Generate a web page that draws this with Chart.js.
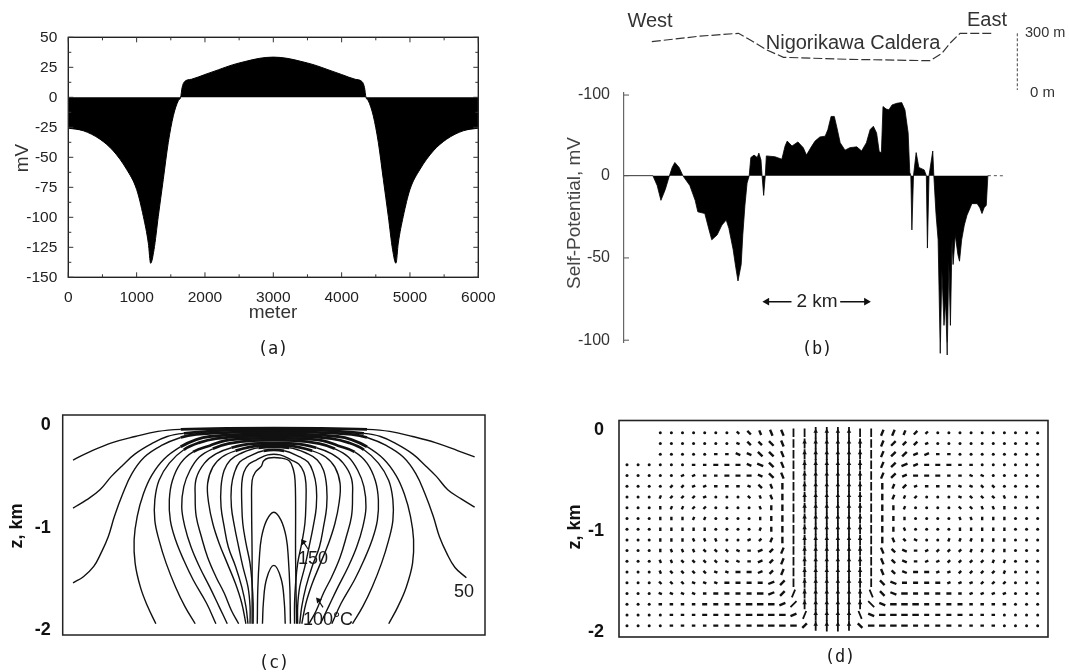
<!DOCTYPE html>
<html>
<head>
<meta charset="utf-8">
<script src="https://cdn.jsdelivr.net/npm/chart.js@4.4.1/dist/chart.umd.min.js"></script>
<style>
  html, body { margin: 0; padding: 0; background: #fff; }
  body { width: 1069px; height: 672px; position: relative; overflow: hidden; }
  .panel { position: absolute; }
</style>
</head>
<body>
<div class="panel" style="left:0;top:0"><canvas id="chartA" width="540" height="372"></canvas></div>
<div class="panel" style="left:540px;top:0"><canvas id="chartB" width="529" height="372"></canvas></div>
<div class="panel" style="left:0;top:380px"><canvas id="chartC" width="540" height="292"></canvas></div>
<div class="panel" style="left:540px;top:380px"><canvas id="chartD" width="529" height="292"></canvas></div>
<script>
'use strict';

const SANS = "'Liberation Sans', Arial, sans-serif";
const MONO = "'DejaVu Sans Mono', monospace";

// ─── (a) modelled self-potential profile ──────────────────────────────────────
const distA = [0, 220, 463, 659, 854, 1000, 1098, 1171, 1205, 1254, 1317, 1390, 1463, 1537, 1610, 1644,
  1665, 1700, 1800, 2000, 2200, 2400, 2600, 2800, 3000, 3200, 3400, 3600, 3800, 4000, 4200, 4300, 4335, 4356,
  4390, 4463, 4537, 4610, 4683, 4746, 4795, 4829, 4902, 5000, 5146, 5341, 5537, 5780, 6000];
const spA = [-25.7, -27.9, -34.9, -44.7, -60.1, -76.8, -99.2, -121.5, -138.3, -127.1, -99.2, -68.4, -37.7, -15.4, -2.8, 0,
  8, 13, 15, 19, 23, 27, 30, 32.5, 33.5, 32.5, 30, 27, 23, 19, 15, 13, 8, 0,
  -2.8, -15.4, -37.7, -68.4, -99.2, -127.1, -138.3, -121.5, -99.2, -76.8, -60.1, -44.7, -34.9, -27.9, -25.7];

// ─── (b) observed SP across Nigorikawa caldera (km along line, mV) ────────────
const distB = [0, 0.54, 0.62, 0.69, 0.77, 0.84, 0.90, 0.95, 1.03, 1.10,
  1.23, 1.33, 1.38, 1.51, 1.59, 1.64, 1.74, 1.83, 1.91, 1.96,
  2.04, 2.09, 2.13, 2.19, 2.22, 2.26, 2.30, 2.34, 2.37, 2.43,
  2.49, 2.52, 2.56, 2.58, 2.61, 2.64, 2.66, 2.82, 2.95, 3.01,
  3.05, 3.14, 3.25, 3.35, 3.41, 3.50, 3.57, 3.66, 3.76, 3.81,
  3.87, 3.93, 3.98, 4.04, 4.13, 4.22, 4.35, 4.44, 4.53, 4.60,
  4.66, 4.72, 4.77, 4.81, 4.84, 4.90, 4.95, 5.01, 5.10, 5.19,
  5.25, 5.31, 5.34, 5.36, 5.38, 5.41, 5.46, 5.51, 5.61, 5.65,
  5.67, 5.70, 5.77, 5.79, 5.83, 5.87, 5.91, 5.94, 5.98, 6.01,
  6.04, 6.07, 6.10, 6.13, 6.15, 6.19, 6.24, 6.27, 6.31, 6.36,
  6.41, 6.47, 6.50, 6.60, 6.65, 6.69, 6.73, 6.77, 6.80];
const spB = [0, 0, -6, -15, -8.5, -1, 5, 8, 5, 0,
  -6, -15, -22, -23, -33, -39, -36, -30, -27, -32,
  -45, -56, -64, -54, -36, -18, -4.5, 0, 11, 12.5,
  11, 13.7, 9.5, 0, -12, 0, 12, 11.5, 10, 18,
  21, 18, 20.5, 17, 12.5, 17.5, 21, 23.5, 24, 28,
  36, 36, 29, 20, 15.5, 17, 17.5, 15, 20, 28,
  30, 26, 14.5, 14, 42, 40.5, 40, 43, 44, 44.4,
  40, 26, 2, 0, -33, 0, 14, 5, 3.5, 0,
  -44, 0, 15, 0, -23, -39, -108, -57, -91, -76,
  -109, -52, -91, -39, -54, -36, -48, -52, -39, -30,
  -24, -19.5, -17, -17, -19.5, -23, -19.5, -18, 0];
const tailB = [6.80, 7.08];
const topoDist = [0.52, 1.42, 2.14, 2.36, 2.67, 2.98, 4.22, 5.72, 5.94, 6.09, 6.28, 6.90];
const topoElev = [256, 285, 300, 265, 212, 173, 162, 155, 194, 247, 300, 300];
const scaleBarDist = 7.35;
const scaleBarElev = [300, 0];
const spanDist = [2.60, 4.60];      // the "2 km" bar
const spanLevel = -76.6;
const tickValsB = [49, 0, -50, -100];
const tickTextB = ['-100', '0', '-50', '-100'];

// ─── (c) isotherms, x and z in km ─────────────────────────────────────────────
const isotherms = [
  [[-1.94,-0.34],[-1.78,-0.26],[-1.56,-0.17],[-1.34,-0.11],[-1.12,-0.06],[-0.90,-0.04],[-0.45,-0.03],[0.45,-0.03],[0.90,-0.04],[1.12,-0.06],[1.34,-0.11],[1.56,-0.17],[1.78,-0.25],[1.94,-0.31]],
  [[-1.94,-0.81],[-1.81,-0.73],[-1.68,-0.63],[-1.57,-0.50],[-1.46,-0.39],[-1.34,-0.28],[-1.18,-0.18],[-1.03,-0.11],[-0.87,-0.08],[-0.45,-0.05],[0.45,-0.05],[0.87,-0.08],[1.03,-0.11],[1.18,-0.18],[1.34,-0.28],[1.46,-0.39],[1.57,-0.50],[1.68,-0.63],[1.81,-0.72],[1.94,-0.80]],
  [[-1.94,-1.54],[-1.84,-1.48],[-1.74,-1.38],[-1.67,-1.25],[-1.60,-1.09],[-1.54,-0.89],[-1.46,-0.67],[-1.37,-0.47],[-1.25,-0.31],[-1.09,-0.20],[-0.90,-0.12],[-0.75,-0.09],[-0.40,-0.07],[0.40,-0.07],[0.75,-0.09],[0.90,-0.12],[1.09,-0.20],[1.25,-0.31],[1.37,-0.47],[1.46,-0.67],[1.54,-0.89],[1.60,-1.09],[1.67,-1.25],[1.75,-1.39],[1.86,-1.49]],
  [[-1.14,-1.94],[-1.22,-1.77],[-1.29,-1.58],[-1.34,-1.35],[-1.35,-1.12],[-1.32,-0.89],[-1.26,-0.67],[-1.18,-0.49],[-1.06,-0.33],[-0.90,-0.21],[-0.75,-0.14],[-0.62,-0.11],[-0.30,-0.09],[0.30,-0.09],[0.62,-0.11],[0.75,-0.14],[0.90,-0.21],[1.06,-0.33],[1.18,-0.49],[1.26,-0.67],[1.32,-0.89],[1.35,-1.12],[1.34,-1.35],[1.28,-1.58],[1.20,-1.77],[1.11,-1.94]],
  [[-0.76,-1.94],[-0.86,-1.77],[-0.95,-1.58],[-1.04,-1.35],[-1.11,-1.12],[-1.15,-0.93],[-1.15,-0.73],[-1.11,-0.54],[-1.01,-0.37],[-0.87,-0.24],[-0.72,-0.17],[-0.56,-0.13],[-0.30,-0.11],[0.30,-0.11],[0.56,-0.13],[0.72,-0.17],[0.87,-0.24],[1.01,-0.37],[1.11,-0.54],[1.15,-0.73],[1.15,-0.93],[1.11,-1.12],[1.04,-1.35],[0.95,-1.58],[0.86,-1.77],[0.76,-1.94]],
  [[-0.56,-1.94],[-0.65,-1.74],[-0.78,-1.51],[-0.87,-1.32],[-0.95,-1.12],[-1.00,-0.93],[-1.01,-0.73],[-0.98,-0.54],[-0.90,-0.37],[-0.78,-0.26],[-0.62,-0.20],[-0.47,-0.15],[-0.25,-0.13],[0.25,-0.13],[0.47,-0.15],[0.62,-0.20],[0.78,-0.26],[0.90,-0.37],[0.98,-0.54],[1.01,-0.73],[1.00,-0.93],[0.95,-1.12],[0.87,-1.32],[0.78,-1.51],[0.65,-1.74],[0.56,-1.94]],
  [[-0.45,-1.94],[-0.53,-1.77],[-0.62,-1.58],[-0.72,-1.38],[-0.80,-1.19],[-0.86,-0.99],[-0.89,-0.80],[-0.87,-0.60],[-0.81,-0.44],[-0.72,-0.31],[-0.59,-0.23],[-0.44,-0.18],[-0.20,-0.15],[0.20,-0.15],[0.44,-0.18],[0.59,-0.23],[0.72,-0.31],[0.81,-0.44],[0.87,-0.60],[0.89,-0.80],[0.86,-0.99],[0.80,-1.19],[0.72,-1.38],[0.62,-1.58],[0.53,-1.77],[0.45,-1.94]],
  [[-0.34,-1.94],[-0.41,-1.81],[-0.48,-1.64],[-0.56,-1.48],[-0.64,-1.29],[-0.70,-1.09],[-0.75,-0.89],[-0.76,-0.70],[-0.75,-0.52],[-0.67,-0.37],[-0.56,-0.28],[-0.41,-0.22],[-0.20,-0.18],[0.20,-0.18],[0.41,-0.22],[0.56,-0.28],[0.67,-0.37],[0.75,-0.52],[0.76,-0.70],[0.75,-0.89],[0.70,-1.09],[0.64,-1.29],[0.56,-1.48],[0.48,-1.64],[0.41,-1.81],[0.34,-1.94]],
  [[-0.27,-1.94],[-0.31,-1.74],[-0.37,-1.55],[-0.45,-1.35],[-0.53,-1.15],[-0.59,-0.96],[-0.63,-0.76],[-0.64,-0.57],[-0.59,-0.41],[-0.50,-0.31],[-0.37,-0.25],[-0.15,-0.20],[0.15,-0.20],[0.37,-0.25],[0.50,-0.31],[0.59,-0.41],[0.64,-0.57],[0.63,-0.76],[0.59,-0.96],[0.53,-1.15],[0.45,-1.35],[0.37,-1.55],[0.31,-1.74],[0.27,-1.94]],
  [[-0.25,-1.94],[-0.27,-1.77],[-0.31,-1.58],[-0.37,-1.38],[-0.44,-1.19],[-0.48,-0.99],[-0.51,-0.80],[-0.51,-0.60],[-0.48,-0.44],[-0.42,-0.34],[-0.33,-0.28],[-0.15,-0.22],[0.15,-0.22],[0.33,-0.28],[0.42,-0.34],[0.48,-0.44],[0.51,-0.60],[0.51,-0.80],[0.48,-0.99],[0.44,-1.19],[0.37,-1.38],[0.31,-1.58],[0.27,-1.77],[0.25,-1.94]],
  [[-0.23,-1.94],[-0.23,-1.77],[-0.25,-1.58],[-0.30,-1.38],[-0.34,-1.19],[-0.38,-0.99],[-0.41,-0.80],[-0.41,-0.60],[-0.38,-0.46],[-0.33,-0.36],[-0.25,-0.31],[-0.10,-0.25],[0.10,-0.25],[0.25,-0.31],[0.33,-0.36],[0.38,-0.46],[0.41,-0.60],[0.41,-0.80],[0.38,-0.99],[0.34,-1.19],[0.30,-1.38],[0.25,-1.58],[0.23,-1.77],[0.23,-1.94]],
  [[-0.20,-1.94],[-0.20,-1.74],[-0.21,-1.55],[-0.23,-1.35],[-0.27,-1.15],[-0.30,-0.96],[-0.31,-0.76],[-0.31,-0.57],[-0.29,-0.46],[-0.24,-0.38],[-0.17,-0.34],[-0.06,-0.29],[0.06,-0.29],[0.17,-0.34],[0.24,-0.38],[0.29,-0.46],[0.31,-0.57],[0.31,-0.76],[0.30,-0.96],[0.27,-1.15],[0.23,-1.35],[0.21,-1.55],[0.20,-1.74],[0.20,-1.94]],
  [[-0.21,-1.94],[-0.21,-1.30],[-0.215,-0.75],[-0.21,-0.54],[-0.18,-0.46],[-0.12,-0.40],[-0.10,-0.35],[-0.05,-0.32],[0.06,-0.32],[0.15,-0.35],[0.19,-0.44],[0.205,-0.54],[0.21,-0.75],[0.21,-1.30],[0.22,-1.94]],
  [[-0.16,-1.94],[-0.155,-1.60],[-0.14,-1.30],[-0.12,-1.10],[-0.07,-0.93],[0,-0.85],[0.07,-0.93],[0.12,-1.10],[0.14,-1.30],[0.155,-1.60],[0.16,-1.94]],
  [[-0.11,-1.94],[-0.10,-1.72],[-0.07,-1.50],[0,-1.37],[0.07,-1.50],[0.10,-1.72],[0.11,-1.94]]
];
const pointerStems = [
  [[0.33,-1.21],[0.285,-1.14]],
  [[0.475,-1.78],[0.43,-1.71]]
];
const depthTicks = [0, -1, -2];

// ─── (d) flow vectors: one row per depth level, one char per column ───────────
// orientation a..h = 0°..157.5° in 22.5° steps, '.' = no direction, ' ' = no node
const flowDir = [
  '   .......ggfffeeee' + 'eeeedddcc..........',
  '   .......hgggfeeee' + 'eeeedcccb..........',
  '   .....aahhggfeeee' + 'eeeedccbbaa........',
  '......aaaaahhgfeeee' + 'eeeedcbbaaaaa......',
  '.....bbaaaaahgfeeee' + 'eeeedcbaaaaahh.....',
  '....ccbbaaahgfeeeee' + 'eeeeedcbaaahhgg....',
  '...dcccbaahgffeeeee' + 'eeeeeddcbaahgggf...',
  '...eddccb...feeeeee' + 'eeeeeed...hggffe...',
  '...eeeddd...eeeeeee' + 'eeeeeee...fffeee...',
  '...eeeeef..ddeeeeee' + 'eeeeeeff..deeeee...',
  '...eeefffgabcdeeeee' + 'eeeeefghacdddeee...',
  '...efffggghabcdeeee' + 'eeeefghabcccddde...',
  '...ffgggghhabcdeeee' + 'eeeefghabbccccdd...',
  '...fgggghhaabcdeeee' + 'eeeefghaabbccccd...',
  '..gggghhhaaaabceeee' + 'eeeeghaaaabbbcccc..',
  '..hhhhhaaaaaabcdeee' + 'eeefghaaaaaabbbbb..',
  '...aaaaaaaaaaabceee' + 'eeeghaaaaaaaaaaa...',
  '....aaaaaaaaaaabdee' + 'eefhaaaaaaaaaaa....',
  '....aaaaaaaaaaaacee' + 'eegaaaaaaaaaaaa....'
];
// magnitude class 0 (dot) .. 6 (strong upflow)
const flowMag = [
  '   0000000122334466' + '6644332210000000000',
  '   0000000122334566' + '6654332210000000000',
  '   0000011223334566' + '6654333221100000000',
  '0000001122223334566' + '6654333222211000000',
  '0000011112222334566' + '6654332222111100000',
  '0000111111112234566' + '6654322111111110000',
  '0001111100011234566' + '6654321100011111000',
  '0001111100001234566' + '6654321000011111000',
  '0001111100001234566' + '6654321000011111000',
  '0001111100001234566' + '6654321000011111000',
  '0001111110011234566' + '6654321100111111000',
  '0001111111112234566' + '6654322111111111000',
  '0001111111112234566' + '6654322111111111000',
  '0001111111222234566' + '6654322221111111000',
  '0001111112222334566' + '6654332222111111000',
  '0001111122223334566' + '6654333222211111000',
  '0001111222233334566' + '6654333322221111000',
  '0000111222233333466' + '6643333322221110000',
  '0000111122223333356' + '6533333222211110000'
];

// ─── helpers ──────────────────────────────────────────────────────────────────
const pts = (xs, ys) => xs.map((x, i) => ({ x, y: ys[i] }));
const pairs = arr => arr.map(([x, y]) => ({ x, y }));

function notesPlugin(items) {
  return {
    id: 'notes',
    afterDraw(chart) {
      const ctx = chart.ctx;
      items.forEach(n => {
        ctx.save();
        ctx.font = n.font;
        ctx.fillStyle = n.color || '#1a1a1a';
        ctx.textAlign = n.align || 'center';
        ctx.textBaseline = 'middle';
        ctx.translate(n.x, n.y);
        if (n.rot) ctx.rotate(n.rot * Math.PI / 180);
        ctx.fillText(n.text, 0, 0);
        ctx.restore();
      });
    }
  };
}

function framePlugin(width, color) {
  return {
    id: 'frame',
    afterDatasetsDraw(chart) {
      const { left, top, right, bottom } = chart.chartArea;
      const ctx = chart.ctx;
      ctx.save();
      ctx.strokeStyle = color;
      ctx.lineWidth = width;
      ctx.strokeRect(left, top, right - left, bottom - top);
      ctx.restore();
    }
  };
}

// inward tick marks on all four sides of panel (a)
const frameTicksA = {
  id: 'frameTicksA',
  afterDraw(chart) {
    const { ctx, chartArea: ca, scales } = chart;
    ctx.save();
    ctx.strokeStyle = '#333';
    ctx.lineWidth = 1;
    ctx.beginPath();
    const xt = scales.x.ticks.map(t => t.value);
    const yt = scales.y.ticks.map(t => t.value);
    const xs = [], ys = [];
    xt.forEach((v, i) => { xs.push([v, 5]); if (i < xt.length - 1) xs.push([(v + xt[i + 1]) / 2, 3]); });
    yt.forEach((v, i) => { ys.push([v, 5]); if (i < yt.length - 1) ys.push([(v + yt[i + 1]) / 2, 3]); });
    xs.forEach(([v, l]) => {
      const px = scales.x.getPixelForValue(v);
      ctx.moveTo(px, ca.bottom); ctx.lineTo(px, ca.bottom - l);
      ctx.moveTo(px, ca.top); ctx.lineTo(px, ca.top + l);
    });
    ys.forEach(([v, l]) => {
      const py = scales.y.getPixelForValue(v);
      ctx.moveTo(ca.left, py); ctx.lineTo(ca.left + l, py);
      ctx.moveTo(ca.right, py); ctx.lineTo(ca.right - l, py);
    });
    ctx.stroke();
    ctx.restore();
  }
};

// inward tick marks on the SP axis of panel (b)
const axisTicksB = {
  id: 'axisTicksB',
  afterDraw(chart) {
    const { ctx, chartArea: ca, scales } = chart;
    ctx.save();
    ctx.strokeStyle = '#555';
    ctx.lineWidth = 1;
    ctx.beginPath();
    tickValsB.forEach(v => {
      const py = scales.y.getPixelForValue(v);
      ctx.moveTo(ca.left, py); ctx.lineTo(ca.left + 5, py);
    });
    ctx.stroke();
    ctx.restore();
  }
};

const base = {
  responsive: false,
  animation: false,
  devicePixelRatio: 1,
  events: [],
  plugins: { legend: { display: false }, tooltip: { enabled: false } }
};

Chart.defaults.font.family = SANS;

// ─── (a) ──────────────────────────────────────────────────────────────────────
new Chart(document.getElementById('chartA'), {
  type: 'scatter',
  data: {
    datasets: [{
      data: pts(distA, spA),
      showLine: true,
      fill: 'origin',
      borderColor: '#000',
      backgroundColor: '#000',
      borderWidth: 1,
      pointRadius: 0,
      cubicInterpolationMode: 'monotone'
    }]
  },
  options: {
    ...base,
    layout: { padding: { left: 8.3, right: 61.7, top: 37.3, bottom: 64.7 } },
    scales: {
      x: {
        type: 'linear', min: 0, max: 6000,
        ticks: { stepSize: 1000, autoSkip: false, maxRotation: 0, padding: 3, color: '#222', font: { size: 15.5 },
                 callback: v => String(v) },
        grid: { display: false },
        border: { display: false },
        afterFit: s => { s.height = 30; }
      },
      y: {
        min: -150, max: 50,
        ticks: { stepSize: 25, autoSkip: false, padding: 3, color: '#222', font: { size: 15.5 },
                 callback: v => String(v) },
        grid: { display: false },
        border: { display: false },
        afterFit: s => { s.width = 60; }
      }
    }
  },
  plugins: [
    framePlugin(1.4, '#222'),
    frameTicksA,
    notesPlugin([
      { text: 'mV', x: 23, y: 158, font: `19px ${SANS}`, rot: -90, color: '#333' },
      { text: 'meter', x: 273, y: 313, font: `19px ${SANS}`, color: '#333' },
      { text: '(a)', x: 273, y: 350, font: `17px ${MONO}` }
    ])
  ]
});

// ─── (b) ──────────────────────────────────────────────────────────────────────
new Chart(document.getElementById('chartB'), {
  type: 'scatter',
  data: {
    datasets: [
      {
        data: pts(topoDist, topoElev), yAxisID: 'yTopo', showLine: true, clip: false,
        borderColor: '#333', borderWidth: 1.2, borderDash: [9, 3], pointRadius: 0
      },
      {
        data: scaleBarElev.map(e => ({ x: scaleBarDist, y: e })), yAxisID: 'yTopo', showLine: true, clip: false,
        borderColor: '#444', borderWidth: 1, borderDash: [3, 2],
        pointStyle: 'line', pointRadius: 4.5, pointBorderColor: '#444', pointBorderWidth: 1.2
      },
      {
        data: pts(distB, spB), showLine: true, clip: false, fill: 'origin',
        borderColor: '#000', backgroundColor: '#000', borderWidth: 0.8, pointRadius: 0, tension: 0
      },
      {
        data: tailB.map(x => ({ x, y: 0 })), showLine: true,
        borderColor: '#555', borderWidth: 1, borderDash: [3, 3], pointRadius: 0
      },
      {
        data: [{ x: 3.13, y: spanLevel }, { x: spanDist[0] + 0.07, y: spanLevel }], showLine: true,
        borderColor: '#111', borderWidth: 1.6, pointStyle: 'triangle',
        pointRadius: [0, 4.5], pointRotation: [0, -90], pointBackgroundColor: '#111', pointBorderWidth: 0
      },
      {
        data: [{ x: 4.04, y: spanLevel }, { x: spanDist[1] - 0.07, y: spanLevel }], showLine: true,
        borderColor: '#111', borderWidth: 1.6, pointStyle: 'triangle',
        pointRadius: [0, 4.5], pointRotation: [0, 90], pointBackgroundColor: '#111', pointBorderWidth: 0
      }
    ]
  },
  options: {
    ...base,
    layout: { padding: { left: 24, right: 64, top: 92.4, bottom: 29.5 } },
    scales: {
      x: { type: 'linear', min: 0, max: 7.12, display: false },
      y: {
        min: -101.4, max: 50.6,
        afterBuildTicks: s => { s.ticks = tickValsB.map(v => ({ value: v })); },
        ticks: { callback: (v, i) => tickTextB[i], padding: 6, color: '#333', font: { size: 16 } },
        grid: { display: false },
        border: { display: true, color: '#666', width: 1.2, dash: [4, 2] },
        afterFit: s => { s.width = 60; }
      },
      yTopo: { type: 'linear', display: false, min: -1336, max: -12.7 }
    }
  },
  plugins: [
    axisTicksB,
    notesPlugin([
      { text: 'West', x: 110, y: 21, font: `20px ${SANS}`, color: '#333' },
      { text: 'East', x: 447, y: 20, font: `20px ${SANS}`, color: '#333' },
      { text: 'Nigorikawa Caldera', x: 313, y: 43, font: `20px ${SANS}`, color: '#333' },
      { text: '300 m', x: 485, y: 33, font: `14.5px ${SANS}`, align: 'left', color: '#333' },
      { text: '0 m', x: 490, y: 93, font: `15px ${SANS}`, align: 'left', color: '#333' },
      { text: 'Self-Potential, mV', x: 35, y: 213, font: `19px ${SANS}`, rot: -90, color: '#444' },
      { text: '2 km', x: 277, y: 302, font: `19px ${SANS}`, color: '#222' },
      { text: '(b)', x: 277, y: 350, font: `17px ${MONO}` }
    ])
  ]
});

// ─── (c) ──────────────────────────────────────────────────────────────────────
// where the isotherms crowd together under the surface they merge into a dark band
const inBand = ctx => ctx.p0.parsed.y > -0.28 && ctx.p1.parsed.y > -0.28 &&
  Math.abs(ctx.p0.parsed.x) < 0.92 && Math.abs(ctx.p1.parsed.x) < 0.92;
const isoSets = isotherms.map(iso => ({
  data: pairs(iso), showLine: true, borderColor: '#111', borderWidth: 1.4, pointRadius: 0, tension: 0.4,
  segment: { borderWidth: ctx => (inBand(ctx) ? 2.8 : undefined) }
}));
const stemSets = pointerStems.map(s => ({
  data: pairs(s), showLine: true, borderColor: '#111', borderWidth: 1.2, pointStyle: 'triangle',
  pointRadius: [0, 3.6], pointRotation: [0, -40], pointBackgroundColor: '#111', pointBorderWidth: 0
}));

new Chart(document.getElementById('chartC'), {
  type: 'scatter',
  data: { datasets: [...isoSets, ...stemSets] },
  options: {
    ...base,
    layout: { padding: { left: 17.7, right: 55, top: 35, bottom: 37 } },
    scales: {
      x: { type: 'linear', min: -2.04, max: 2.04, display: false },
      y: {
        min: -2.05, max: 0.1,
        afterBuildTicks: s => { s.ticks = depthTicks.map(v => ({ value: v })); },
        ticks: { padding: 4, color: '#111', font: { size: 18, weight: 'bold' } },
        grid: { display: false },
        border: { display: false },
        afterFit: s => { s.width = 45; }
      }
    }
  },
  plugins: [
    framePlugin(1.5, '#222'),
    notesPlugin([
      { text: 'z, km', x: 17.5, y: 146, font: `bold 18px ${SANS}`, rot: -90, color: '#111' },
      { text: '150', x: 313, y: 179, font: `18px ${SANS}` },
      { text: '100°C', x: 328, y: 240, font: `18px ${SANS}` },
      { text: '50', x: 464, y: 212, font: `18px ${SANS}` },
      { text: '(c)', x: 274, y: 284, font: `17px ${MONO}` }
    ])
  ]
});

// ─── (d) ──────────────────────────────────────────────────────────────────────
const ORIENT = { a: 0, b: 22.5, c: 45, d: 67.5, e: 90, f: 112.5, g: 135, h: 157.5 };
const STROKE_LEN = [0, 3.5, 5, 6.5, 8.5, 10, 11.5];
const dots = [], shortV = [], longV = [], heads = [];
flowDir.forEach((row, r) => {
  for (let c = 0; c < row.length; c++) {
    const ch = row[c];
    if (ch === ' ') continue;
    const m = +flowMag[r][c] || 0;
    if (!m) { dots.push({ x: c, y: r }); continue; }
    const ang = ORIENT[ch] !== undefined ? ORIENT[ch] : 90;
    (m >= 4 ? longV : shortV).push({ x: c, y: r, len: STROKE_LEN[m], ang });
    if (m >= 5) heads.push({ x: c, y: r - 0.12, ang });
  }
});

new Chart(document.getElementById('chartD'), {
  type: 'scatter',
  data: {
    datasets: [
      { data: dots, yAxisID: 'yRow', pointStyle: 'circle', pointRadius: 1.5, pointBackgroundColor: '#111', pointBorderWidth: 0 },
      {
        data: shortV, yAxisID: 'yRow', pointStyle: 'line',
        pointRadius: shortV.map(p => p.len / 2), pointRotation: shortV.map(p => -p.ang),
        pointBorderColor: '#111', pointBorderWidth: 2.4
      },
      {
        data: longV, yAxisID: 'yRow', pointStyle: 'line',
        pointRadius: longV.map(p => p.len / 2), pointRotation: longV.map(p => -p.ang),
        pointBorderColor: '#111', pointBorderWidth: 1.8
      },
      {
        data: heads, yAxisID: 'yRow', pointStyle: 'triangle',
        pointRadius: 2.6, pointRotation: heads.map(p => 90 - p.ang),
        pointBackgroundColor: '#111', pointBorderWidth: 0
      }
    ]
  },
  options: {
    ...base,
    layout: { padding: { left: 34, right: 21, top: 40.5, bottom: 35 } },
    scales: {
      x: { type: 'linear', min: -0.72, max: 37.93, display: false },
      y: {
        min: -2.05, max: 0.094,
        afterBuildTicks: s => { s.ticks = depthTicks.map(v => ({ value: v })); },
        ticks: { padding: 7, color: '#111', font: { size: 18, weight: 'bold' } },
        grid: { display: false },
        border: { display: false },
        afterFit: s => { s.width = 45; }
      },
      yRow: { type: 'linear', display: false, min: -1.14, max: 19.06, reverse: true }
    }
  },
  plugins: [
    framePlugin(1.6, '#222'),
    notesPlugin([
      { text: 'z, km', x: 35, y: 147, font: `bold 18px ${SANS}`, rot: -90, color: '#111' },
      { text: '(d)', x: 300, y: 278, font: `17px ${MONO}` }
    ])
  ]
});
</script>
</body>
</html>
